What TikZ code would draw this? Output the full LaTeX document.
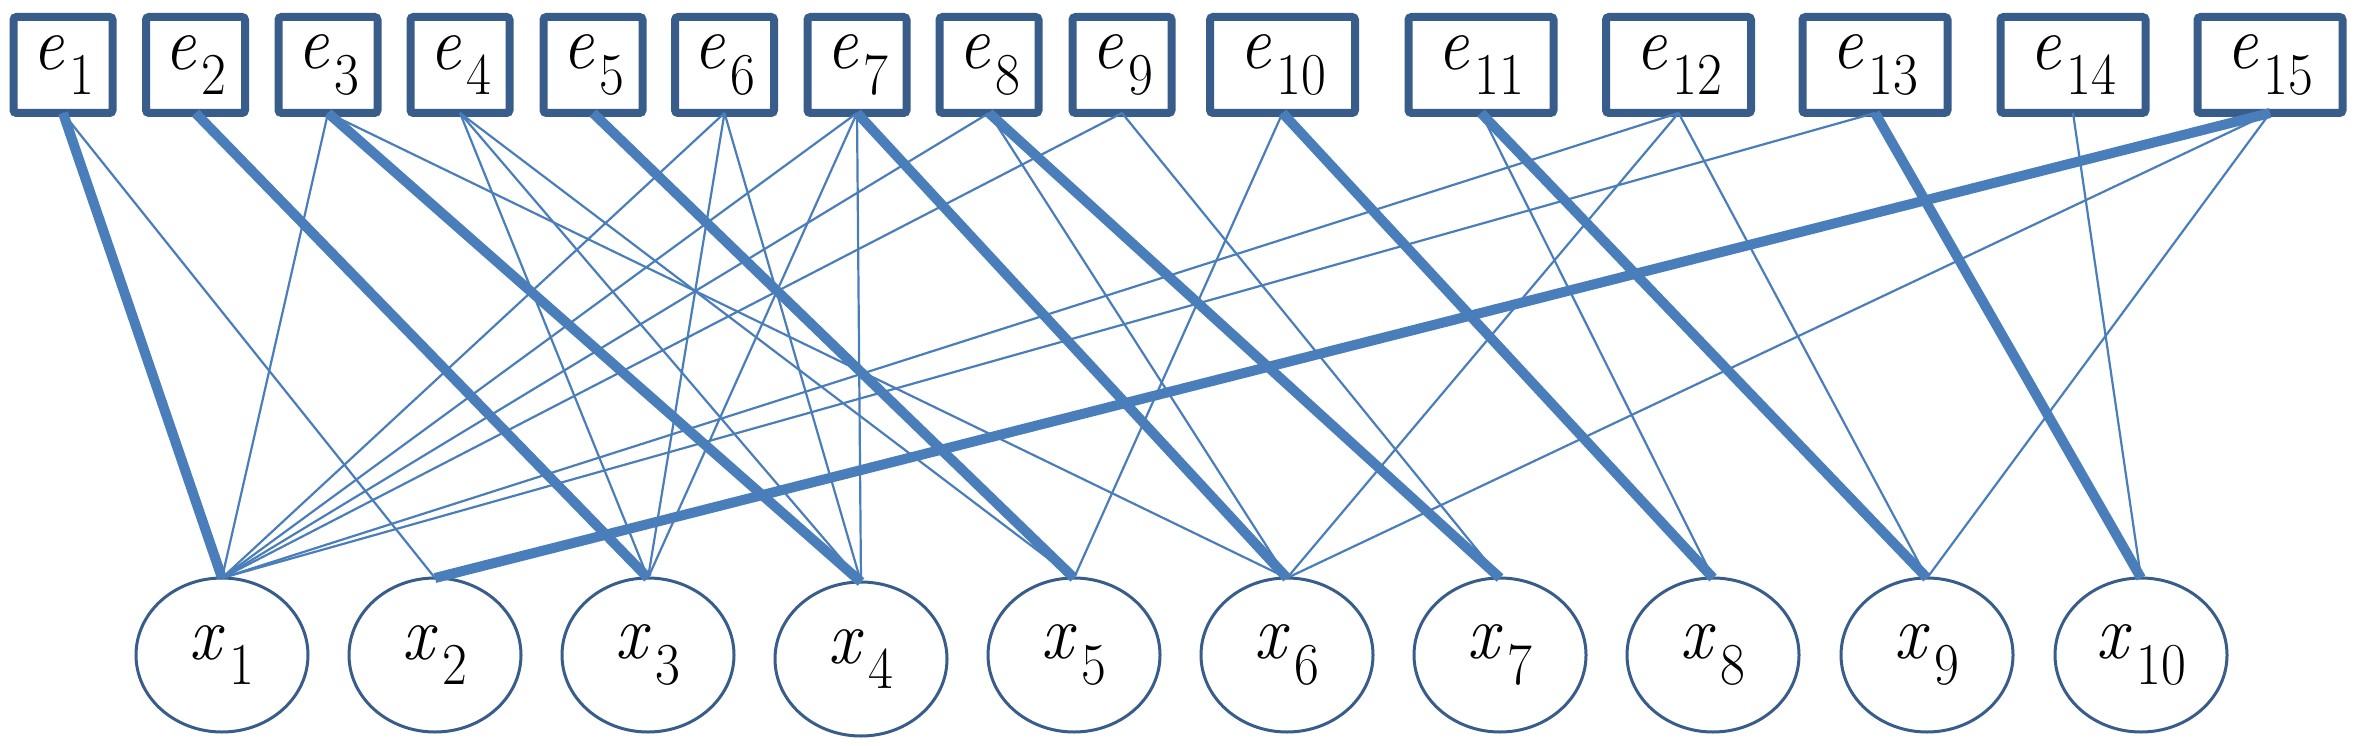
\documentclass[tikz,border=0pt]{standalone}
\usetikzlibrary{shapes.geometric}
\definecolor{edgec}{RGB}{74,126,187}
\definecolor{boxc}{RGB}{56,93,138}
\newcommand{\lbl}[2]{\scalebox{1}[1.1]{\textit{#1}\kern5pt\raisebox{-23pt}{\fontsize{54}{60}\selectfont #2}}}
\begin{document}
\begin{tikzpicture}[x=1pt,y=-1pt,
  ebox/.style={draw=boxc, line width=8pt, rounded corners=3pt, fill=white,
    minimum height=96pt, inner sep=0pt, outer sep=0pt,
    font=\fontsize{70}{80}\selectfont},
  xnode/.style={ellipse, draw=boxc, line width=3pt, fill=white,
    minimum width=172pt, minimum height=154pt, inner sep=0pt, outer sep=0pt,
    font=\fontsize{70}{80}\selectfont},
  lnk/.style={draw=edgec, line width=2.2pt},
  main/.style={draw=edgec, line width=10pt}]
\useasboundingbox (0,0) rectangle (2357,746);
\fill[white] (0,0) rectangle (2357,746);
% top boxes
\foreach \n/\cx/\w in {1/63/99, 2/195.5/99, 3/328/99, 4/460/99, 5/593/99,
  6/724.5/99, 7/857/99, 8/989/99, 9/1122/99, 10/1282.5/145, 11/1481/145,
  12/1678.5/145, 13/1875/145, 14/2073/145, 15/2270/145}
  \node[ebox, minimum width=\w pt] (e\n) at (\cx,65) {\lbl{e}{\n}};
% bottom ellipses
\foreach \n/\cx/\cy in {1/222/655, 2/435/655, 3/648/655, 4/861/659,
  5/1074/655, 6/1287/655, 7/1500/655, 8/1713/655, 9/1927/655, 10/2141/655}
  \node[xnode] (x\n) at (\cx,\cy) {\lbl{x}{\n}};
% thin edges
\foreach \a/\b in {1/2, 3/1, 3/6, 4/3, 4/4, 4/5, 6/1, 6/3, 6/4, 7/1, 7/3, 7/4,
  8/1, 8/6, 9/1, 9/7, 10/5, 11/8, 12/1, 12/6, 12/9, 13/1, 14/10, 15/6, 15/9}
  \draw[lnk] (e\a.south) -- (x\b.north);
% thick edges
\foreach \a/\b in {1/1, 2/3, 3/4, 5/5, 7/6, 8/7, 10/8, 11/9, 13/10, 15/2}
  \draw[main] (e\a.south) -- (x\b.north);
\end{tikzpicture}
\end{document}
